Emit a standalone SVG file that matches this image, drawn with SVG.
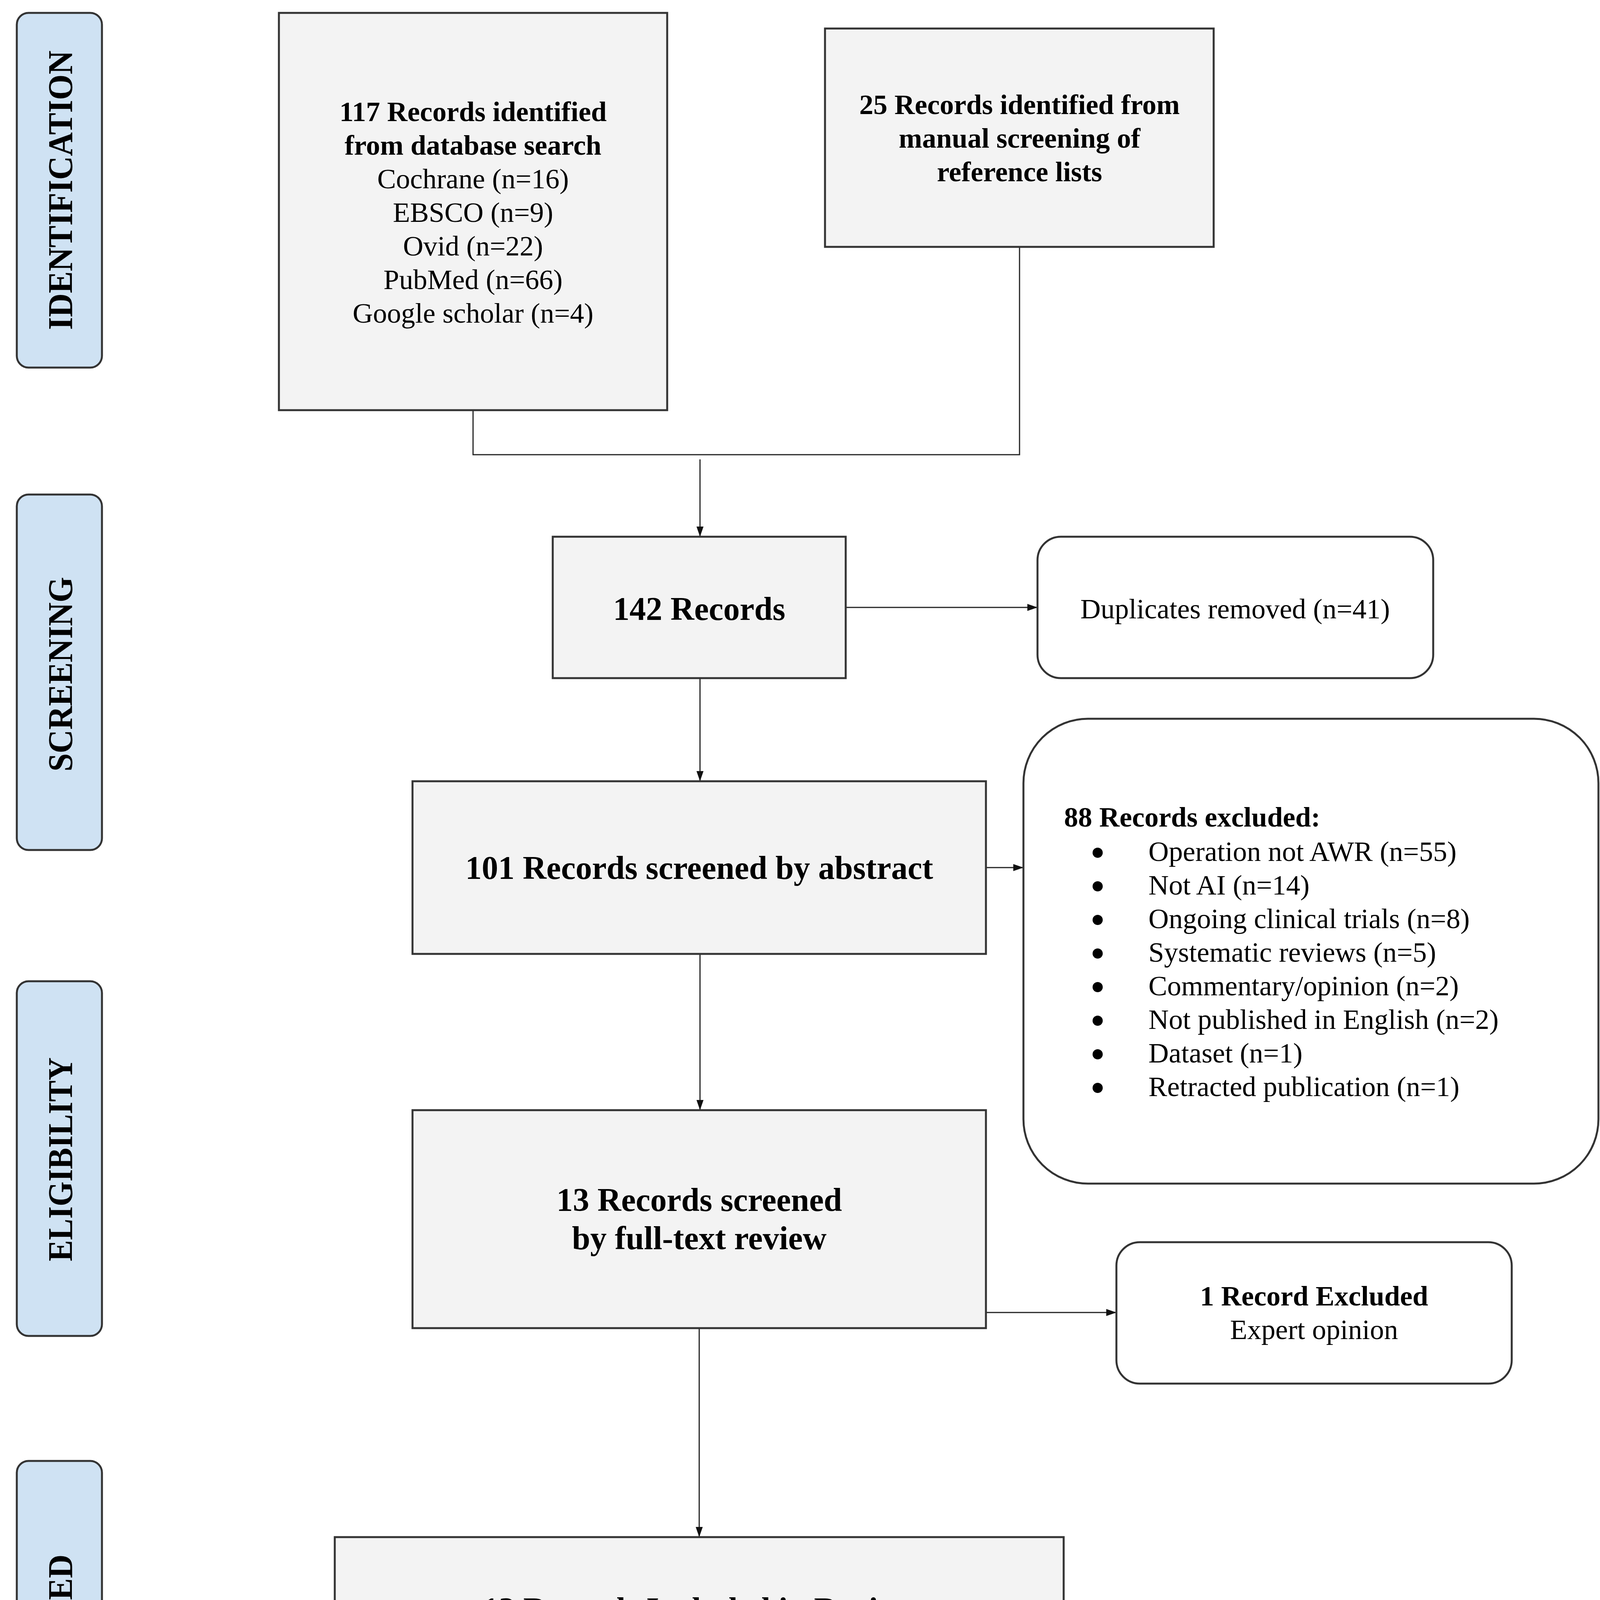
<svg xmlns="http://www.w3.org/2000/svg" width="4134" height="4692" viewBox="0 0 4134 4692">
<style>
.phase{fill:#cfe2f3;stroke:#333;stroke-width:5}
.gbox{fill:#f3f3f3;stroke:#333;stroke-width:5}
.wbox{fill:#fff;stroke:#333;stroke-width:5}
.lbl{font-family:"Liberation Serif","Times New Roman",serif;fill:#000}
.b{font-weight:bold}
.ph{font-family:"Liberation Serif","Times New Roman",serif;font-weight:bold;font-size:88px;fill:#000;text-anchor:middle}
.c{text-anchor:middle}
.s72{font-size:72px}
.s84{font-size:84px}
.conn{fill:none;stroke:#222;stroke-width:3}
</style>
<defs>
<marker id="ah" markerUnits="userSpaceOnUse" markerWidth="28" markerHeight="20" refX="26" refY="9" orient="auto">
<path d="M0,0 L26,9 L0,18 z" fill="#111"/>
</marker>
</defs>
<rect width="4134" height="4692" fill="#fff"/>

<g id="phase-identification">
<rect class="phase" x="43" y="33" width="218" height="908" rx="30"/>
<text class="ph" transform="translate(184,487) rotate(-90)" textLength="715" lengthAdjust="spacingAndGlyphs">IDENTIFICATION</text>
</g>
<g id="phase-screening">
<rect class="phase" x="43" y="1266" width="218" height="910" rx="30"/>
<text class="ph" transform="translate(184,1726) rotate(-90)" textLength="498" lengthAdjust="spacingAndGlyphs">SCREENING</text>
</g>
<g id="phase-eligibility">
<rect class="phase" x="43" y="2512" width="218" height="908" rx="30"/>
<text class="ph" transform="translate(184,2968) rotate(-90)" textLength="522" lengthAdjust="spacingAndGlyphs">ELIGIBILITY</text>
</g>
<g id="phase-included">
<rect class="phase" x="43" y="3740" width="218" height="910" rx="30"/>
<text class="ph" transform="translate(184,4203) rotate(-90)" textLength="447" lengthAdjust="spacingAndGlyphs">INCLUDED</text>
</g>

<g id="connectors">
<polyline class="conn" points="1211,1050 1211,1164 2610,1164 2610,632"/>
<line class="conn" x1="1792" y1="1176" x2="1792" y2="1374" marker-end="url(#ah)"/>
<line class="conn" x1="2165" y1="1555" x2="2656" y2="1555" marker-end="url(#ah)"/>
<line class="conn" x1="1792" y1="1736" x2="1792" y2="2000" marker-end="url(#ah)"/>
<line class="conn" x1="2524" y1="2221" x2="2620" y2="2221" marker-end="url(#ah)"/>
<line class="conn" x1="1792" y1="2442" x2="1792" y2="2842" marker-end="url(#ah)"/>
<line class="conn" x1="2524" y1="3360" x2="2858" y2="3360" marker-end="url(#ah)"/>
<line class="conn" x1="1790" y1="3400" x2="1790" y2="3935" marker-end="url(#ah)"/>
</g>

<g id="node-database">
<rect class="gbox" x="714" y="33" width="994" height="1017"/>
<text class="lbl c s72 b" x="1211" y="310">117 Records identified</text>
<text class="lbl c s72 b" x="1211" y="396">from database search</text>
<text class="lbl c s72" x="1211" y="482">Cochrane (n=16)</text>
<text class="lbl c s72" x="1211" y="568">EBSCO (n=9)</text>
<text class="lbl c s72" x="1211" y="654">Ovid (n=22)</text>
<text class="lbl c s72" x="1211" y="740">PubMed (n=66)</text>
<text class="lbl c s72" x="1211" y="826">Google scholar (n=4)</text>
</g>

<g id="node-manual">
<rect class="gbox" x="2112" y="73" width="995" height="559"/>
<text class="lbl c s72 b" x="2610" y="292">25 Records identified from</text>
<text class="lbl c s72 b" x="2610" y="378">manual screening of</text>
<text class="lbl c s72 b" x="2610" y="464">reference lists</text>
</g>

<g id="node-142">
<rect class="gbox" x="1415" y="1374" width="750" height="362"/>
<text class="lbl c s84 b" x="1790" y="1587">142 Records</text>
</g>

<g id="node-duplicates">
<rect class="wbox" x="2656" y="1374" width="1013" height="362" rx="60"/>
<text class="lbl c s72" x="3162" y="1583">Duplicates removed (n=41)</text>
</g>

<g id="node-101">
<rect class="gbox" x="1056" y="2000" width="1468" height="442"/>
<text class="lbl c s84 b" x="1790" y="2250">101 Records screened by abstract</text>
</g>

<g id="node-88">
<rect class="wbox" x="2620" y="1840" width="1472" height="1190" rx="165"/>
<text class="lbl s72 b" x="2724" y="2116">88 Records excluded:</text>
<circle cx="2810" cy="2183" r="13" fill="#000"/>
<circle cx="2810" cy="2269" r="13" fill="#000"/>
<circle cx="2810" cy="2355" r="13" fill="#000"/>
<circle cx="2810" cy="2441" r="13" fill="#000"/>
<circle cx="2810" cy="2527" r="13" fill="#000"/>
<circle cx="2810" cy="2613" r="13" fill="#000"/>
<circle cx="2810" cy="2699" r="13" fill="#000"/>
<circle cx="2810" cy="2785" r="13" fill="#000"/>
<text class="lbl s72" x="2940" y="2204">Operation not AWR (n=55)</text>
<text class="lbl s72" x="2940" y="2290">Not AI (n=14)</text>
<text class="lbl s72" x="2940" y="2376">Ongoing clinical trials (n=8)</text>
<text class="lbl s72" x="2940" y="2462">Systematic reviews (n=5)</text>
<text class="lbl s72" x="2940" y="2548">Commentary/opinion (n=2)</text>
<text class="lbl s72" x="2940" y="2634">Not published in English (n=2)</text>
<text class="lbl s72" x="2940" y="2720">Dataset (n=1)</text>
<text class="lbl s72" x="2940" y="2806">Retracted publication (n=1)</text>
</g>

<g id="node-13">
<rect class="gbox" x="1056" y="2842" width="1468" height="558"/>
<text class="lbl c s84 b" x="1790" y="3100">13 Records screened</text>
<text class="lbl c s84 b" x="1790" y="3198">by full-text review</text>
</g>

<g id="node-1excluded">
<rect class="wbox" x="2858" y="3180" width="1012" height="362" rx="60"/>
<text class="lbl c s72 b" x="3364" y="3342">1 Record Excluded</text>
<text class="lbl c s72" x="3364" y="3428">Expert opinion</text>
</g>

<g id="node-12">
<rect class="gbox" x="857" y="3935" width="1866" height="366"/>
<text class="lbl c s84 b" x="1790" y="4148">12 Records Included in Review</text>
</g>
</svg>
